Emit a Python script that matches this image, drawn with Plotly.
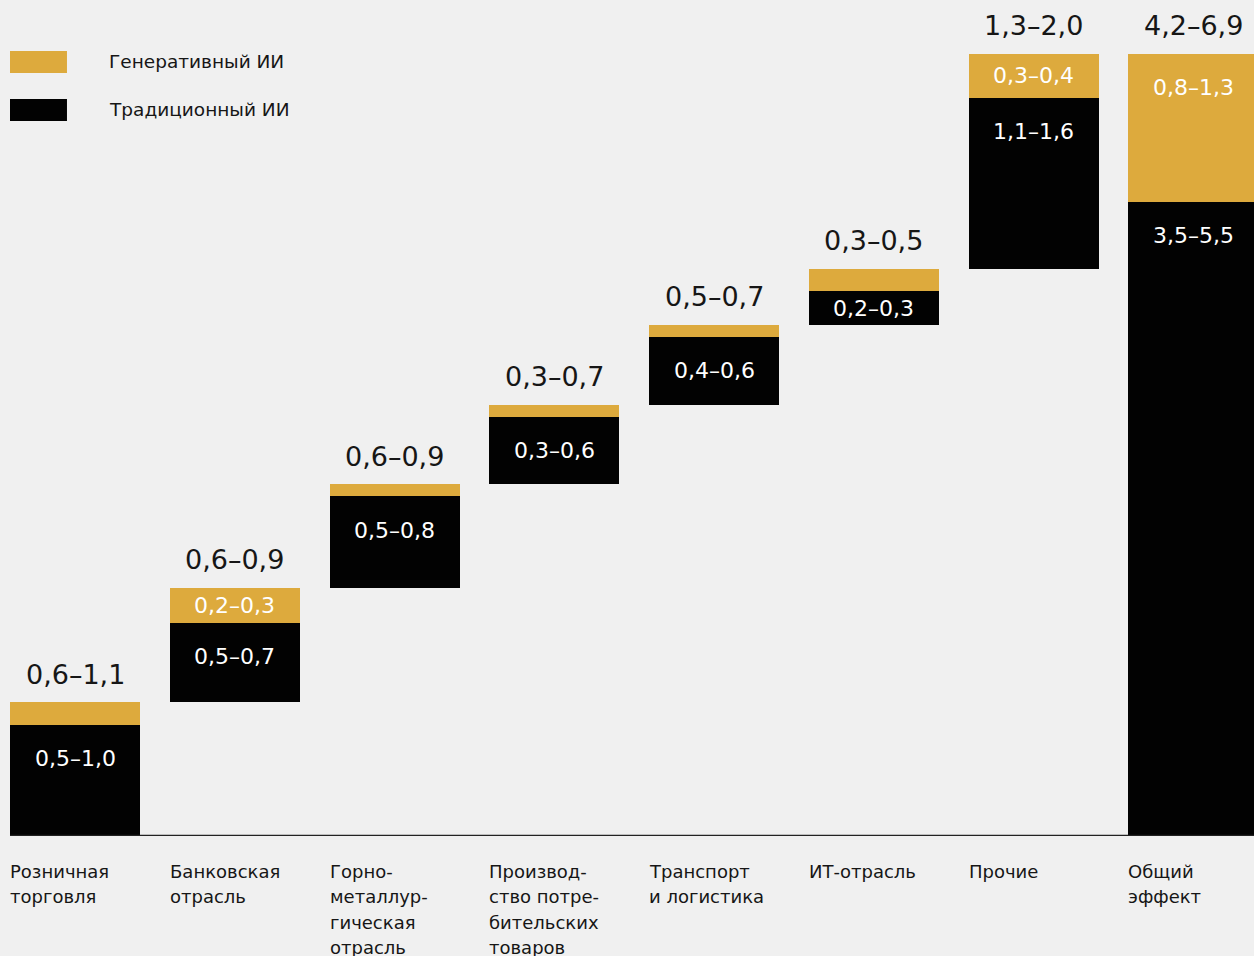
import plotly.graph_objects as go

# ---------------- data ----------------
categories = [
    "Розничная\nторговля",
    "Банковская\nотрасль",
    "Горно-\nметаллур-\nгическая\nотрасль",
    "Производ-\nство потре-\nбительских\nтоваров",
    "Транспорт\nи логистика",
    "ИТ-отрасль",
    "Прочие",
    "Общий\nэффект",
]
traditional = [0.79, 0.56, 0.65, 0.48, 0.48, 0.24, 1.21, 4.50]
generative = [0.16, 0.25, 0.085, 0.085, 0.085, 0.16, 0.315, 1.05]
traditional_labels = ["0,5–1,0", "0,5–0,7", "0,5–0,8", "0,3–0,6", "0,4–0,6", "0,2–0,3", "1,1–1,6", "3,5–5,5"]
generative_labels = [None, "0,2–0,3", None, None, None, None, "0,3–0,4", "0,8–1,3"]
total_labels = ["0,6–1,1", "0,6–0,9", "0,6–0,9", "0,3–0,7", "0,5–0,7", "0,3–0,5", "1,3–2,0", "4,2–6,9"]
is_total = [False, False, False, False, False, False, False, True]
series_names = ["Генеративный ИИ", "Традиционный ИИ"]

# ---------------- style ----------------
GOLD = "#DDAA3D"
BLACK = "#020202"
BG = "#F0F0F0"
TXT = "#161616"
FONT = "DejaVu Sans"
BAR_W = 0.8138
X_LEFT = -0.4069
X_RIGHT = 7.38
Y_TOP = 5.93
LABEL_OFF = 0.24  # max offset of inner label from segment top (data units)

# waterfall bases
trad_base, gen_base = [], []
cum = 0.0
for t, g, tot in zip(traditional, generative, is_total):
    b = 0.0 if tot else cum
    trad_base.append(b)
    gen_base.append(b + t)
    if not tot:
        cum += t + g

xs = list(range(len(categories)))

fig = go.Figure()
fig.add_trace(go.Bar(
    x=xs, y=traditional, base=trad_base, width=BAR_W,
    marker=dict(color=BLACK, line=dict(width=0)), name=series_names[1],
    hoverinfo="skip",
))
fig.add_trace(go.Bar(
    x=xs, y=generative, base=gen_base, width=BAR_W,
    marker=dict(color=GOLD, line=dict(width=0)), name=series_names[0],
    hoverinfo="skip",
))

ann = []
for i in xs:
    tt = trad_base[i] + traditional[i]
    ann.append(dict(x=i, y=tt - min(traditional[i] / 2, LABEL_OFF), xref="x", yref="y",
                    text=traditional_labels[i], showarrow=False, yanchor="middle",
                    font=dict(family=FONT, size=22, color="white")))
    gt = gen_base[i] + generative[i]
    if generative_labels[i]:
        ann.append(dict(x=i, y=gt - min(generative[i] / 2, LABEL_OFF), xref="x", yref="y",
                        text=generative_labels[i], showarrow=False, yanchor="middle",
                        font=dict(family=FONT, size=22, color="white")))
    ann.append(dict(x=i, y=gt, xref="x", yref="y", yshift=28,
                    text=total_labels[i], showarrow=False, yanchor="middle",
                    font=dict(family=FONT, size=27, color=TXT)))
    for k, line in enumerate(categories[i].split("\n")):
        ann.append(dict(x=i + X_LEFT, y=0, xref="x", yref="paper", xanchor="left",
                        yanchor="middle", yshift=-(35 + 25.5 * k), xshift=-2, text=line,
                        showarrow=False, font=dict(family=FONT, size=18, color=TXT)))

# legend (drawn)
legend_colors = [GOLD, BLACK]
legend_y = [(0.9127, 0.939), (0.8553, 0.8816)]
shapes = []
for name, col, (y0, y1) in zip(series_names, legend_colors, legend_y):
    shapes.append(dict(type="rect", xref="paper", yref="paper", x0=0, x1=0.0458,
                       y0=y0, y1=y1, fillcolor=col, line=dict(width=0)))
    ann.append(dict(x=0.078, y=(y0 + y1) / 2, xref="paper", yref="paper", xanchor="left",
                    yanchor="middle", text=name, showarrow=False,
                    font=dict(family=FONT, size=18.5, color=TXT)))

shapes.append(dict(type="line", xref="paper", yref="y", x0=0, x1=1, y0=0, y1=0,
                   line=dict(color="#222222", width=2.5), layer="above"))

fig.update_layout(
    width=1254, height=956,
    margin=dict(l=10, r=0, t=0, b=120),
    paper_bgcolor=BG, plot_bgcolor=BG,
    barmode="overlay", bargap=0,
    showlegend=False,
    xaxis=dict(range=[X_LEFT, X_RIGHT], visible=False, fixedrange=True),
    yaxis=dict(range=[0, Y_TOP], visible=False, fixedrange=True),
    annotations=ann, shapes=shapes,
    font=dict(family=FONT),
)

fig.write_html("out.html", config={"displayModeBar": False},
               post_script="document.body.style.margin='0';document.body.style.background='#F0F0F0';")
